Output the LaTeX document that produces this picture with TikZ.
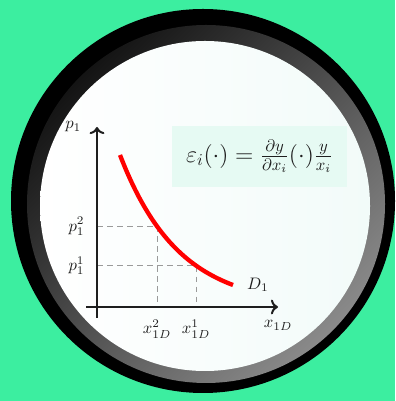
\documentclass[tikz,border=0pt]{standalone}
\usetikzlibrary{positioning,arrows.meta}
\definecolor{bg}{HTML}{3CEEA0}
\definecolor{rimlo}{HTML}{141414}
\definecolor{rimhi}{HTML}{8A8A8A}
\definecolor{face}{HTML}{FFFFFF}
\definecolor{facetint}{HTML}{F2FBF9}
\definecolor{box}{HTML}{E6FAF3}
\definecolor{ink}{HTML}{1E1E1E}
\definecolor{guide}{HTML}{9A9A9A}
\definecolor{demand}{HTML}{FF0000}

\begin{document}
\begin{tikzpicture}[x=.6pt,y=.6pt]
\useasboundingbox (0,0) rectangle (395,401);
\fill[bg] (0,0) rectangle (395,401);
\fill[black] (203,200) circle[radius=192];
\shade[top color=rimlo,bottom color=rimhi,shading angle=45] (206,197) circle[radius=179];
\shade[left color=face,right color=facetint] (205,195) circle[radius=165];
\node[fill=box,text=ink,minimum width=105pt,minimum height=36.6pt,font=\Large] (el) at (259.5,244.5){$\varepsilon_i(\cdot)=\frac{\partial y}{\partial x_i}(\cdot)\frac{y}{x_i}$};
\coordinate (ybot) at (97,83);\coordinate (ytop) at (97,274);
\coordinate (xl) at (86,94);\coordinate (xr) at (278,94);
\coordinate (y2) at (97,174.7);\coordinate (c2) at (157,174.7);\coordinate (x2) at (157,94);
\coordinate (y1) at (97,135.4);\coordinate (c1) at (196,135.4);\coordinate (x1) at (196,94);
\coordinate (dend) at (233,116);
\draw[guide,line width=.6pt,dash pattern=on 3.5pt off 2.5pt] (y2)--(c2)--(x2);
\draw[guide,line width=.6pt,dash pattern=on 3.5pt off 2.5pt] (y1)--(c1)--(x1);
\draw[->,ink,line width=1.2pt] (ybot)--(ytop);
\draw[->,ink,line width=1.2pt] (xl)--(xr);
\draw[demand,line width=2.6pt] plot[domain=120:233,samples=60] (\x,{94+152*exp(-0.0171*(\x-120))});
\node[text=ink,left=6pt] (plab) at (ytop){$p_1$};
\node[text=ink,below=4.5pt] (xlab) at (xr){$x_{1D}$};
\node[text=ink,left=4pt] (p2) at (y2){$p_1^2$};
\node[text=ink,left=4pt] (p1) at (y1){$p_1^1$};
\node[text=ink,below=4.5pt] (q2) at (x2){$x_{1D}^2$};
\node[text=ink,below=4.5pt] (q1) at (x1){$x_{1D}^1$};
\node[text=ink,right=5pt] (dlab) at (dend){$D_1$};
\end{tikzpicture}
\end{document}
